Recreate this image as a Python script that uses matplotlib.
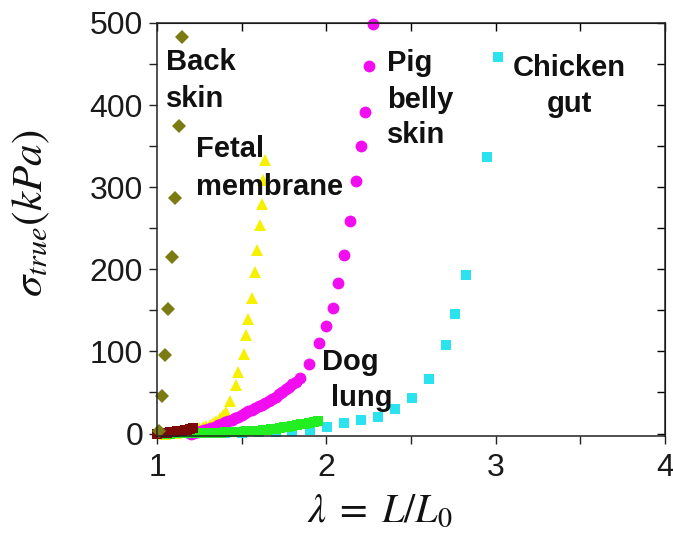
import matplotlib
matplotlib.use("Agg")
import matplotlib.pyplot as plt
from matplotlib.ticker import MultipleLocator

plt.rcParams['font.family'] = ['Liberation Sans', 'DejaVu Sans']
plt.rcParams['mathtext.fontset'] = 'stix'

# ---------------- data ----------------
back_x = [1.010, 1.028, 1.047, 1.067, 1.086, 1.106, 1.131, 1.145]
back_y = [3, 46, 96, 152, 215, 287, 374, 483]

other_x = [1.00, 1.015, 1.03, 1.045, 1.06, 1.075, 1.09, 1.105, 1.12, 1.135,
           1.15, 1.165, 1.18, 1.195, 1.21]
other_y = [0, 0.3, 0.6, 0.9, 1.2, 1.5, 1.9, 2.3, 2.7, 3.1, 3.6, 4.1, 4.8, 5.6, 6.5]

fetal_x = [1.05, 1.07, 1.09, 1.11, 1.13, 1.15, 1.17, 1.19, 1.21, 1.23, 1.25,
           1.27, 1.29, 1.31, 1.33, 1.35, 1.37, 1.39, 1.41, 1.434, 1.466, 1.479,
           1.514, 1.528, 1.537, 1.563, 1.577, 1.591, 1.611, 1.622, 1.626, 1.636]
fetal_y = [0, 0.3, 0.7, 1.1, 1.6, 2.1, 2.7, 3.4, 4.2, 5.1, 6.2, 7.5, 9.0, 10.8,
           13.0, 15.6, 18.6, 22, 26, 40, 58.5, 75, 97, 119.5, 140, 165.5, 197,
           223, 254, 280, 308.5, 333]

pig_x = [1.20, 1.22, 1.24, 1.26, 1.28, 1.30, 1.32, 1.34, 1.36, 1.38, 1.40,
         1.42, 1.44, 1.46, 1.48, 1.50, 1.52, 1.54, 1.56, 1.58, 1.60, 1.62,
         1.64, 1.66, 1.68, 1.70, 1.72, 1.74, 1.76, 1.78, 1.80, 1.82, 1.847,
         1.900, 1.959, 1.998, 2.037, 2.068, 2.106, 2.137, 2.173, 2.202, 2.226,
         2.249, 2.274]
pig_y = [0, 1, 2, 3, 4, 5.5, 7, 8.5, 10, 12, 14, 15.5, 17, 19, 20.5, 22.5,
         24.5, 27, 29, 31, 33, 35, 37.5, 40, 42.5, 45, 48, 51, 54, 57, 60, 63,
         68, 84.5, 110, 130.5, 153, 183, 218, 259, 307, 350, 392, 448, 499]

dog_x = [1.000, 1.025, 1.050, 1.075, 1.100, 1.125, 1.150, 1.175, 1.200, 1.225,
         1.250, 1.275, 1.300, 1.325, 1.350, 1.375, 1.400, 1.425, 1.450, 1.475,
         1.500, 1.525, 1.550, 1.575, 1.600, 1.625, 1.650, 1.675, 1.700, 1.725,
         1.750, 1.775, 1.800, 1.825, 1.850, 1.875, 1.900, 1.925, 1.950]
dog_y = [0, 0, 0, 0, 0.1, 0.2, 0.3, 0.4, 0.5, 0.6, 0.7, 0.8, 0.9, 1.0, 1.1,
         1.2, 1.3, 1.5, 1.7, 1.9, 2.2, 2.5, 2.8, 3.2, 3.6, 4.1, 4.6, 5.2, 5.9,
         6.6, 7.4, 8.2, 9.1, 10.0, 11.0, 12.0, 13.1, 14.3, 15.6]

chicken_x = [1.0, 1.1, 1.2, 1.3, 1.4, 1.5, 1.6, 1.7, 1.8, 1.906, 2.004, 2.104,
             2.204, 2.305, 2.405, 2.505, 2.605, 2.707, 2.760, 2.827, 2.950, 3.013]
chicken_y = [0, 0, 0, 0.5, 0.8, 1, 1.5, 2, 3, 4.5, 7.7, 12.6, 15.9, 20.7, 29.6,
             43.5, 66.7, 107.7, 145, 192.7, 337, 458]

x_ticks = [1, 2, 3, 4]
y_ticks = [0, 100, 200, 300, 400, 500]

# annotation lines: (text, x, y, ha)
labels = [
    ("Back", 1.055, 443, 'left'),
    ("skin", 1.055, 398, 'left'),
    ("Fetal", 1.23, 337, 'left'),
    ("membrane", 1.23, 291, 'left'),
    ("Pig", 2.36, 442, 'left'),
    ("belly", 2.36, 397, 'left'),
    ("skin", 2.36, 354, 'left'),
    ("Chicken", 3.435, 436, 'center'),
    ("gut", 3.435, 392, 'center'),
    ("Dog", 1.977, 77, 'left'),
    ("lung", 2.027, 34, 'left'),
]

# ---------------- figure ----------------
fig = plt.figure(figsize=(6.73, 5.33), dpi=100)
ax = fig.add_axes([0.2333, 0.182, 0.7548, 0.7749])

common = dict(linestyle='none', markeredgewidth=0, clip_on=False)
ax.plot(chicken_x, chicken_y, marker='s', markersize=7, color='#2ae3ee', **common)
ax.plot(fetal_x, fetal_y, marker='^', markersize=8.5, color='#f7f000', **common)
ax.plot(pig_x, pig_y, marker='o', markersize=8.5, color='#f20cf0', **common)
ax.plot(dog_x, dog_y, marker='s', markersize=7.5, color='#22ee22', **common)
ax.plot(other_x, other_y, marker='s', markersize=7.5, color='#7a0a0a', **common)
ax.plot(back_x, back_y, marker='D', markersize=7.5, color='#7c7a12', **common)

ax.set_xlim(1, 4)
ax.set_ylim(-3, 500)
ax.set_xticks(x_ticks)
ax.set_yticks(y_ticks)
ax.xaxis.set_minor_locator(MultipleLocator(0.5))
ax.yaxis.set_minor_locator(MultipleLocator(50))
ax.tick_params(which='both', direction='out', length=6, width=1.0,
               labelsize=23, top=False, right=False, colors='#222222')
ax.tick_params(axis='x', pad=6)
ax.tick_params(axis='y', pad=4)
ax.tick_params(which='both', labelcolor='#1a1a1a')
for s in ax.spines.values():
    s.set_linewidth(1.1)
    s.set_color('#222222')

# inward ticks on top and right
secx = ax.secondary_xaxis('top')
secx.set_xticks(x_ticks)
secx.xaxis.set_minor_locator(MultipleLocator(0.5))
secx.tick_params(which='both', direction='in', length=6, width=1.0, labeltop=False)
secy = ax.secondary_yaxis('right')
secy.set_yticks(y_ticks)
secy.yaxis.set_minor_locator(MultipleLocator(50))
secy.tick_params(which='both', direction='in', length=6, width=1.0, labelright=False)

for txt, x, y, ha in labels:
    ax.text(x, y, txt, ha=ha, va='baseline', fontsize=21, fontweight='bold',
            color='#111111')

fig.text(0.565, 0.022, r'$\lambda\;=\;L/L_0$', ha='center', va='baseline',
         fontsize=29, color='#111111')
fig.text(0.047, 0.60, r'$\sigma_{true}(kPa)$', ha='center', va='center',
         rotation=90, fontsize=31, color='#111111')

fig.savefig('out.png', dpi=100)
